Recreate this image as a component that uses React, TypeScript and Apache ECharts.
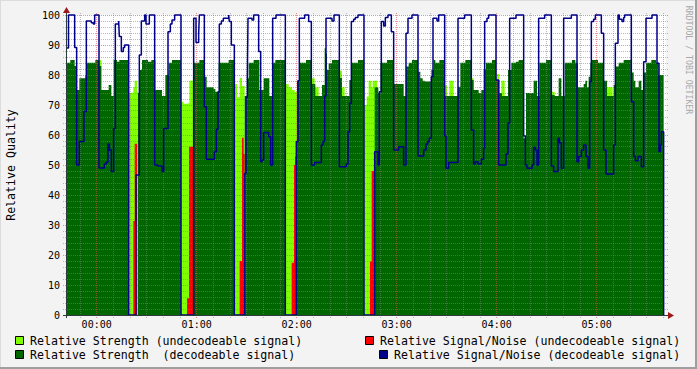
import React, { useEffect, useRef } from "react";
import * as echarts from "echarts";

// Time in minutes relative to 00:00, values in percent (change points of step series)
const snDecodeable: [number, number][] = [
  [-18.4, 89], [-16.9, 100], [-13.2, 89.2], [-12.0, 50], [-10.4, 57.8], [-7.6, 67.8], [-6.2, 98], [-3.2, 97.4], [-2.0, 97], [-1.2, 100],
  [1.4, 49], [4.6, 50.3], [5.8, 51], [6.8, 57], [7.6, 55], [8.8, 47.8], [10.2, 62.2], [11.2, 97], [13.2, 98], [13.6, 92.8], [14.8, 87.8],
  [16.0, 89.2], [16.8, 90], [19.2, 0],
  [23.6, 46.7], [25.6, 86.7], [26.8, 98], [28.8, 100], [29.6, 97], [31.6, 100], [34.8, 50], [36.6, 49.7], [39.2, 47.8], [40.2, 62.2],
  [42.8, 94.4], [44.2, 97], [45.2, 98.3], [46.8, 100], [50.6, 0],
  [58.2, 98.9], [59.6, 90.8], [61.2, 93.7], [61.6, 100], [64.6, 69.4], [65.8, 51.9], [70.6, 54.4], [71.8, 61.9], [72.8, 74.4], [73.6, 97],
  [74.8, 98], [76.0, 98.9], [79.2, 100], [79.6, 97.8], [80.8, 90], [82.6, 0],
  [88.8, 47.2], [89.6, 72.6], [90.4, 78.9], [90.8, 98.9], [93.2, 98.3], [94.2, 100], [97.2, 87.8], [98.4, 51.1], [99.2, 51.7], [100.2, 60.8],
  [103.2, 59.4], [104.4, 50], [105.6, 98.9], [107.6, 100], [113.2, 0],
  [119.8, 57.8], [120.8, 78.1], [121.6, 98.9], [124.8, 100], [127.2, 97.8], [128.8, 50], [130.8, 50.8], [134.8, 56.7], [135.8, 57.8],
  [136.8, 73], [137.6, 98.9], [141.2, 98], [142.4, 100], [145.6, 49.4], [149.8, 50.3], [150.8, 61.1], [151.8, 70.6], [152.8, 97.8],
  [154.2, 98.6], [155.2, 99.2], [156.8, 100], [160.4, 0],
  [166.8, 54.4], [168.8, 50], [169.6, 74.4], [170.8, 97.8], [172.2, 96.3], [173.2, 99.2], [174.8, 100], [176.8, 94.4], [178.2, 55],
  [181.2, 56.1], [184.2, 50], [185.6, 93.9], [186.8, 98.9], [189.2, 100], [192.8, 53], [196.2, 55], [197.6, 57], [198.6, 57.8],
  [199.6, 58.9], [200.8, 79.4], [201.8, 98.9], [204.2, 98], [205.2, 100], [208.8, 59.7], [209.6, 48.9], [211.2, 50.8], [216.8, 98.9],
  [220.8, 100], [224.8, 61.7], [226.2, 50.3], [227.2, 51.1], [228.8, 50.3], [230.8, 51.9], [232.2, 55.6], [232.8, 97.8], [234.2, 98.9],
  [235.2, 100], [239.6, 78.3], [241.2, 50], [245.6, 53.7], [246.8, 64], [247.8, 98.9], [251.6, 100], [256.2, 59.7], [257.2, 50],
  [258.2, 48.9], [261.2, 50], [262.2, 55.9], [263.2, 55], [264.2, 50], [265.2, 98.9], [268.8, 100], [272.8, 49.7], [274.2, 47.8],
  [276.8, 58.9], [277.6, 57.4], [278.8, 48.9], [280.2, 98.9], [284.8, 100], [288.2, 51.1], [289.2, 52.8], [290.8, 55], [292.2, 56.7],
  [293.6, 52.8], [294.8, 48.9], [295.8, 77.8], [296.8, 97.8], [298.2, 98.6], [299.2, 100], [302.8, 93.9], [304.2, 55], [305.6, 47],
  [310.2, 56.7], [311.2, 90.6], [312.8, 100], [313.6, 98.6], [315.2, 97.8], [316.2, 99.2], [316.8, 100], [320.8, 71.1], [322.2, 52.8],
  [323.2, 51.4], [324.8, 52.8], [326.8, 49.4], [328.2, 84.4], [329.6, 98.9], [333.2, 100], [336.2, 83.9], [337.4, 54.4], [338.2, 56.7],
  [338.8, 61.1], [340.2, 0],
];

const rsDecodeable: [number, number][] = [
  [-18.4, 84.1], [-15.8, 85], [-13.2, 83], [-12.0, 75], [-10.4, 78.9], [-6.8, 80], [-5.8, 84.1], [-0.8, 85], [1.6, 83], [2.8, 75],
  [7.2, 76.7], [8.8, 73], [10.2, 85], [12.2, 84.4], [13.6, 85], [19.2, 0],
  [24.8, 74], [25.6, 81.7], [27.2, 85], [30.8, 84.4], [32.8, 85], [35.2, 75], [39.2, 73], [41.2, 80], [43.2, 84.1], [45.2, 85], [50.6, 0],
  [58.2, 84.1], [61.6, 85], [64.8, 79.4], [66.0, 75.9], [70.2, 75.3], [71.2, 74.4], [73.2, 84.1], [79.2, 85], [82.6, 0],
  [88.8, 73], [90.4, 78.9], [91.2, 84.1], [94.2, 85], [97.6, 75], [100.2, 78.9], [103.6, 73], [105.2, 84.1], [107.2, 85], [113.2, 0],
  [120.2, 78.1], [121.6, 84.1], [125.6, 85], [128.8, 77], [131.2, 73], [135.2, 76.7], [136.8, 88.9], [137.6, 87.2], [138.2, 81.7],
  [139.2, 83.9], [141.2, 85], [145.6, 79], [147.2, 73], [151.6, 78.3], [152.8, 84.1], [156.8, 85], [160.4, 0],
  [166.8, 75.9], [169.0, 74], [170.2, 84.1], [174.2, 85], [178.2, 77], [184.2, 73], [185.6, 82.8], [187.2, 84.1], [189.2, 85],
  [192.8, 81.1], [194.2, 78.9], [195.6, 78.1], [196.8, 77.8], [200.8, 81.7], [202.2, 85], [203.2, 84.1], [205.6, 85], [208.8, 73],
  [216.8, 76.1], [218.2, 84.1], [221.2, 85], [224.8, 78.3], [226.2, 75], [229.2, 74], [230.8, 75], [232.2, 81.9], [233.6, 84.1],
  [237.2, 85], [239.6, 78.3], [241.6, 74], [243.2, 73], [246.8, 81.7], [248.8, 84.1], [251.6, 84.4], [253.2, 85], [256.2, 58.9],
  [257.6, 74], [262.2, 78.1], [264.2, 73], [265.6, 84.1], [269.6, 85], [272.8, 73.3], [274.8, 73], [277.2, 78.9], [278.8, 73],
  [280.8, 84.1], [285.2, 85], [287.2, 84.1], [288.8, 75.9], [292.2, 77], [293.2, 78.1], [294.2, 75.9], [295.2, 79.4], [296.2, 84.1],
  [297.2, 85], [300.8, 84.1], [304.2, 78.1], [306.2, 73], [310.2, 76.7], [311.6, 82.8], [313.2, 84.1], [316.2, 85], [320.8, 80.8],
  [322.2, 78.1], [323.2, 75.9], [325.2, 78.1], [326.8, 75], [328.2, 80.8], [329.6, 84.1], [332.8, 85], [335.6, 84.1], [337.2, 80],
  [340.2, 0],
];

const rsUndecodeable: [number, number][] = [
  [1.6, 85], [2.8, 0],
  [19.2, 74.1], [22.0, 75.9], [22.8, 78.1], [24.2, 74.4], [24.8, 0],
  [50.6, 71.1], [52.2, 70.4], [54.2, 70.6], [55.6, 78.1], [58.2, 0],
  [82.6, 77], [84.2, 72.6], [85.8, 79], [87.2, 76.3], [88.8, 0],
  [113.2, 77], [115.2, 75.9], [117.2, 75], [118.8, 74.4], [120.2, 0],
  [128.8, 78.9], [130.8, 75.9], [133.2, 0],
  [145.6, 81.4], [147.2, 75.9], [148.8, 0],
  [160.4, 70], [162.0, 72.8], [163.2, 78.1], [164.8, 75.9], [165.6, 78.1], [168.2, 0],
  [208.8, 76.6], [210.2, 0], [211.6, 78.1], [214.2, 0],
  [224.8, 78.9], [226.2, 0],
  [240.2, 80.3], [241.6, 0], [242.8, 78.1], [244.8, 0],
  [273.2, 74.4], [274.8, 0],
  [306.2, 75.9], [309.6, 0], [340.2, 0],
];

const snUndecodeable: [number, number][] = [
  [22.0, 31.3], [22.8, 57.1], [24.2, 0],
  [54.2, 5.6], [55.4, 56.1], [57.8, 0],
  [85.8, 18], [87.2, 59.1], [88.2, 53.7], [88.8, 0],
  [117.0, 17.4], [118.4, 50], [119.0, 52.8], [119.8, 0],
  [164.0, 17.8], [165.0, 48], [166.4, 0], [340.2, 0],
];

const hourTicks = [0, 60, 120, 180, 240, 300];
const X_MIN = -18.4;
const X_MAX = 341.6;

const legendItems = [
  { name: "Relative Strength (undecodeable signal)", color: "#80ff00", bx: 15.5, by: 336.5, tx: 30, ty: 341 },
  { name: "Relative Strength  (decodeable signal)", color: "#006600", bx: 15.5, by: 350.5, tx: 30, ty: 355 },
  { name: "Relative Signal/Noise (undecodeable signal)", color: "#ff0000", bx: 365.5, by: 336.5, tx: 380, ty: 341 },
  { name: "Relative Signal/Noise (decodeable signal)", color: "#00008b", bx: 379.5, by: 350.5, tx: 394, ty: 355 },
];

const MONO = '"DejaVu Sans Mono", monospace';
const pad = (n: number) => (n < 10 ? "0" : "") + n;

export default function App() {
  const ref = useRef<HTMLDivElement>(null);
  useEffect(() => {
    if (!ref.current) return;
    const chart = echarts.init(ref.current, null, { renderer: "svg" });
    const areaSeries = (name: string, data: [number, number][], color: string, z: number) => ({
      name,
      type: "line",
      step: "end",
      data,
      showSymbol: false,
      symbol: "none",
      z,
      lineStyle: { width: 0, color },
      itemStyle: { color },
      areaStyle: { color, opacity: 1 },
    });
    chart.setOption({
      animation: false,
      backgroundColor: "#f3f3f3",
      grid: { left: 66, top: 15, width: 600, height: 300, show: true, backgroundColor: "#ffffff", borderWidth: 0 },
      xAxis: {
        type: "value",
        min: X_MIN,
        max: X_MAX,
        axisLine: { show: false },
        axisTick: { show: false },
        splitLine: { show: false },
        axisLabel: {
          customValues: hourTicks,
          formatter: (v: number) => pad(Math.floor(v / 60)) + ":" + pad(Math.round(v % 60)),
          fontFamily: MONO,
          fontSize: 10,
          color: "#000",
          margin: 4,
        },
      },
      yAxis: {
        type: "value",
        min: 0,
        max: 100,
        interval: 10,
        axisLine: { show: false },
        axisTick: { show: false },
        splitLine: { show: false },
        axisLabel: { fontFamily: MONO, fontSize: 10, color: "#000", margin: 6 },
      },
      series: [
        areaSeries("Relative Strength (undecodeable signal)", rsUndecodeable, "#80ff00", 1),
        areaSeries("Relative Signal/Noise (undecodeable signal)", snUndecodeable, "#ff0000", 2),
        areaSeries("Relative Strength  (decodeable signal)", rsDecodeable, "#006600", 3),
        {
          name: "Relative Signal/Noise (decodeable signal)",
          type: "line",
          step: "end",
          data: snDecodeable,
          showSymbol: false,
          symbol: "none",
          clip: false,
          z: 6,
          lineStyle: { width: 1.5, color: "#00008b" },
          itemStyle: { color: "#00008b" },
        },
      ],
    });

    const px = (t: number) => chart.convertToPixel({ xAxisIndex: 0 }, t) as number;
    const py = (v: number) => chart.convertToPixel({ yAxisIndex: 0 }, v) as number;
    const left = px(X_MIN);
    const right = px(X_MAX);
    const top = py(100);
    const bottom = py(0);
    const minorColor = "rgba(130,130,130,0.55)";
    const majorColor = "rgba(224,70,70,0.6)";
    const els: any[] = [];
    for (let v = 2; v <= 100; v += 2) {
      const y = Math.floor(py(v)) + 0.5;
      els.push({
        type: "line", z: 4, silent: true,
        shape: { x1: left - 3, y1: y, x2: right + 3, y2: y },
        style: { stroke: v % 10 === 0 ? majorColor : minorColor, lineWidth: 1, lineDash: [1, 1] },
      });
    }
    for (let t = -10; t <= 340; t += 10) {
      const x = Math.floor(px(t)) + 0.5;
      els.push({
        type: "line", z: 4, silent: true,
        shape: { x1: x, y1: top - 2, x2: x, y2: bottom + 3 },
        style: { stroke: t % 60 === 0 ? majorColor : minorColor, lineWidth: 1, lineDash: [1, 1] },
      });
    }
    const axisColor = "#2c3c3c";
    const arrowColor = "#a01818";
    els.push(
      { type: "line", z: 8, silent: true, shape: { x1: Math.floor(left) + 0.5, y1: bottom + 3, x2: Math.floor(left) + 0.5, y2: top - 5 }, style: { stroke: axisColor, lineWidth: 1 } },
      { type: "line", z: 8, silent: true, shape: { x1: left - 3, y1: Math.floor(bottom) + 0.5, x2: right + 4, y2: Math.floor(bottom) + 0.5 }, style: { stroke: axisColor, lineWidth: 1 } },
      { type: "polygon", z: 9, silent: true, shape: { points: [[left - 3, top - 2], [left + 4, top - 2], [left + 0.5, top - 8]] }, style: { fill: arrowColor } },
      { type: "polygon", z: 9, silent: true, shape: { points: [[right + 2, bottom - 3], [right + 2, bottom + 4], [right + 8, bottom + 0.5]] }, style: { fill: arrowColor } },
      // frame shading
      { type: "rect", z: 9, silent: true, shape: { x: 0, y: 0, width: 697, height: 1 }, style: { fill: "#dcdcdc" } },
      { type: "rect", z: 9, silent: true, shape: { x: 0, y: 0, width: 1, height: 369 }, style: { fill: "#dcdcdc" } },
      { type: "rect", z: 9, silent: true, shape: { x: 0, y: 367, width: 697, height: 2 }, style: { fill: "#9e9e9e" } },
      { type: "rect", z: 9, silent: true, shape: { x: 695, y: 0, width: 2, height: 369 }, style: { fill: "#9e9e9e" } },
      {
        type: "text", z: 9, silent: true, x: 11, y: (top + bottom) / 2, rotation: Math.PI / 2,
        style: { text: "Relative Quality", font: `11.6px ${MONO}`, fill: "#000", align: "center", verticalAlign: "middle" },
      },
      {
        type: "text", z: 9, silent: true, x: 689, y: 60, rotation: -Math.PI / 2,
        style: { text: "RRDTOOL / TOBI OETIKER", font: `8.2px ${MONO}`, fill: "#a8a8a8", align: "center", verticalAlign: "middle" },
      }
    );
    legendItems.forEach((it) => {
      els.push(
        { type: "rect", z: 9, silent: true, shape: { x: it.bx, y: it.by, width: 8, height: 8 }, style: { fill: it.color, stroke: "#000", lineWidth: 1 } },
        { type: "text", z: 9, silent: true, x: it.tx, y: it.ty, style: { text: it.name, font: `11.6px ${MONO}`, fill: "#000", align: "left", verticalAlign: "middle" } }
      );
    });
    chart.setOption({ graphic: { elements: els } });
    return () => chart.dispose();
  }, []);
  return <div ref={ref} style={{ position: "fixed", left: 0, top: 0, width: 697, height: 369 }} />;
}
